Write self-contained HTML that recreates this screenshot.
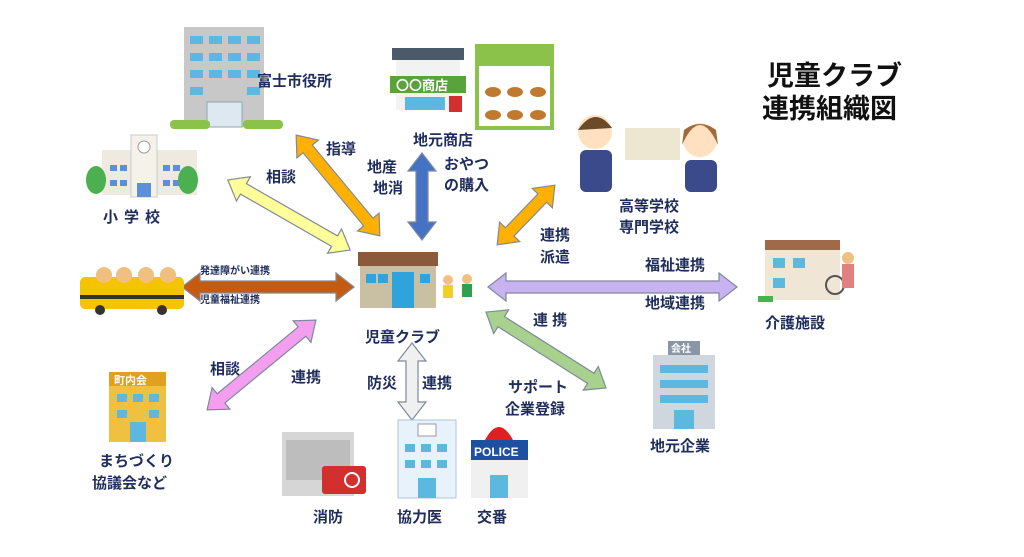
<!DOCTYPE html>
<html><head><meta charset="utf-8"><style>
body{margin:0;background:#fff}
svg{display:block}
text{font-family:"Liberation Sans","Noto Sans CJK JP",sans-serif;font-weight:bold;fill:#1f2d5c}
</style></head><body>
<svg width="1024" height="557" viewBox="0 0 1024 557" xmlns="http://www.w3.org/2000/svg">
<!-- Arrows -->
<g stroke="#7f8a99" stroke-width="1.2">
<polygon transform="translate(289,215) rotate(29.8)" fill="#ffff99" points="-70.5,0 -52.5,-14 -52.5,-6 52.5,-6 52.5,-14 70.5,0 52.5,14 52.5,6 -52.5,6 -52.5,14"/>
<polygon transform="translate(338,185.5) rotate(50.3)" fill="#ffb000" points="-65.5,0 -47.5,-14 -47.5,-6 47.5,-6 47.5,-14 65.5,0 47.5,14 47.5,6 -47.5,6 -47.5,14"/>
<polygon transform="translate(422,196.5) rotate(90)" fill="#4472c4" points="-43.5,0 -25.5,-14 -25.5,-6 25.5,-6 25.5,-14 43.5,0 25.5,14 25.5,6 -25.5,6 -25.5,14"/>
<polygon transform="translate(526,215) rotate(-46)" fill="#ffb000" points="-41.5,0 -23.5,-14 -23.5,-6 23.5,-6 23.5,-14 41.5,0 23.5,14 23.5,6 -23.5,6 -23.5,14"/>
<polygon transform="translate(268,287)" fill="#c55a11" points="-86,0 -68,-14 -68,-6 68,-6 68,-14 86,0 68,14 68,6 -68,6 -68,14"/>
<polygon transform="translate(612.5,287)" fill="#c9b2f2" points="-124.5,0 -106.5,-14 -106.5,-6 106.5,-6 106.5,-14 124.5,0 106.5,14 106.5,6 -106.5,6 -106.5,14"/>
<polygon transform="translate(546,350) rotate(32.3)" fill="#a9d18e" points="-71,0 -53,-14 -53,-6 53,-6 53,-14 71,0 53,14 53,6 -53,6 -53,14"/>
<polygon transform="translate(261.5,365) rotate(-39.5)" fill="#f49ef0" points="-70.5,0 -52.5,-14 -52.5,-6 52.5,-6 52.5,-14 70.5,0 52.5,14 52.5,6 -52.5,6 -52.5,14"/>
<polygon transform="translate(412,381.5) rotate(90)" fill="#f0f0f0" points="-38.5,0 -20.5,-14 -20.5,-6 20.5,-6 20.5,-14 38.5,0 20.5,14 20.5,6 -20.5,6 -20.5,14"/>
</g>

<!-- City hall -->
<rect x="184" y="27" width="80" height="100" fill="#c8c8c8"/>
<g fill="#5db8e0">
<rect x="190" y="36" width="13" height="8"/><rect x="209" y="36" width="13" height="8"/><rect x="228" y="36" width="13" height="8"/><rect x="247" y="36" width="13" height="8"/>
<rect x="190" y="53" width="13" height="8"/><rect x="209" y="53" width="13" height="8"/><rect x="228" y="53" width="13" height="8"/><rect x="247" y="53" width="13" height="8"/>
<rect x="190" y="70" width="13" height="8"/><rect x="209" y="70" width="13" height="8"/><rect x="228" y="70" width="13" height="8"/><rect x="247" y="70" width="13" height="8"/>
<rect x="190" y="87" width="13" height="8"/><rect x="247" y="87" width="13" height="8"/>
</g>
<rect x="207" y="102" width="35" height="25" fill="#dde8f0" stroke="#8aa" />
<rect x="170" y="120" width="40" height="9" rx="4" fill="#8bc34a"/><rect x="243" y="120" width="40" height="9" rx="4" fill="#8bc34a"/>
<text x="257" y="86" font-size="15">富士市役所</text>

<!-- School -->
<rect x="102" y="150" width="95" height="45" fill="#eeeae0"/>
<rect x="131" y="135" width="26" height="62" fill="#f5f2ea" stroke="#ccc"/>
<circle cx="144" cy="147" r="6" fill="#fff" stroke="#999"/>
<g fill="#5b8fd6"><rect x="110" y="165" width="7" height="6"/><rect x="120" y="165" width="7" height="6"/><rect x="163" y="165" width="7" height="6"/><rect x="173" y="165" width="7" height="6"/><rect x="110" y="180" width="7" height="6"/><rect x="120" y="180" width="7" height="6"/><rect x="163" y="180" width="7" height="6"/><rect x="173" y="180" width="7" height="6"/><rect x="137" y="183" width="14" height="14"/></g>
<ellipse cx="96" cy="180" rx="10" ry="14" fill="#4caf50"/><ellipse cx="188" cy="180" rx="10" ry="14" fill="#4caf50"/>
<text x="103" y="222" font-size="15" letter-spacing="6">小学校</text>

<!-- Shop -->
<rect x="392" y="48" width="72" height="12" fill="#4a5a68"/>
<rect x="396" y="60" width="64" height="50" fill="#f2f2f2"/>
<rect x="390" y="76" width="76" height="17" fill="#5aa23a"/>
<text x="396" y="90" font-size="13" style="fill:#fff">〇〇商店</text>
<rect x="405" y="97" width="40" height="13" fill="#5db8e0"/>
<rect x="449" y="96" width="13" height="16" fill="#d32f2f"/>
<rect x="477" y="46" width="75" height="82" fill="#fff" stroke="#8bc34a" stroke-width="4"/>
<rect x="477" y="46" width="75" height="20" fill="#8bc34a"/>
<g fill="#c07a30"><ellipse cx="493" cy="92" rx="8" ry="5"/><ellipse cx="515" cy="92" rx="8" ry="5"/><ellipse cx="538" cy="92" rx="8" ry="5"/><ellipse cx="493" cy="115" rx="8" ry="5"/><ellipse cx="515" cy="115" rx="8" ry="5"/><ellipse cx="538" cy="115" rx="8" ry="5"/></g>
<text x="413" y="145" font-size="15">地元商店</text>
<text x="444" y="169" font-size="15">おやつ</text>
<text x="444" y="190" font-size="15">の購入</text>
<text x="367" y="172" font-size="15">地産</text>
<text x="373" y="193" font-size="15">地消</text>
<text x="326" y="154" font-size="15">指導</text>
<text x="266" y="182" font-size="15">相談</text>

<!-- High school -->
<rect x="625" y="128" width="55" height="32" fill="#ede6d0"/>
<circle cx="595" cy="132" r="17" fill="#ffe0c0"/><path d="M578 130 Q595 105 612 128 Z" fill="#6b4a2a"/>
<rect x="580" y="150" width="32" height="42" rx="6" fill="#3a4a8a"/>
<circle cx="700" cy="140" r="17" fill="#ffe0c0"/><path d="M682 145 Q700 105 718 145 L716 130 Q700 118 684 130 Z" fill="#a06a3a"/>
<rect x="685" y="160" width="32" height="32" rx="6" fill="#3a4a8a"/>
<text x="619" y="211" font-size="15">高等学校</text>
<text x="619" y="232" font-size="15">専門学校</text>
<text x="540" y="240" font-size="15">連携</text>
<text x="540" y="262" font-size="15">派遣</text>

<!-- Title -->
<text x="767" y="85" font-size="27" style="fill:#111">児童クラブ</text>
<text x="762" y="118" font-size="27" style="fill:#111">連携組織図</text>

<!-- Center club -->
<rect x="358" y="252" width="80" height="14" fill="#8b5a3c"/>
<rect x="360" y="266" width="76" height="42" fill="#c9bfa2"/>
<rect x="392" y="272" width="22" height="36" fill="#2fa3dc"/>
<rect x="366" y="274" width="10" height="9" fill="#2fa3dc"/><rect x="378" y="274" width="10" height="9" fill="#2fa3dc"/><rect x="420" y="274" width="10" height="9" fill="#2fa3dc"/>
<circle cx="448" cy="280" r="5" fill="#f0c080"/><rect x="443" y="285" width="10" height="13" fill="#f0d020"/>
<circle cx="467" cy="279" r="5" fill="#f0c080"/><rect x="462" y="284" width="10" height="13" fill="#30a050"/>
<text x="365" y="342" font-size="15">児童クラブ</text>

<!-- Bus -->
<rect x="80" y="277" width="104" height="32" rx="5" fill="#f5c400"/>
<circle cx="104" cy="275" r="8" fill="#f0c080"/><circle cx="124" cy="275" r="8" fill="#f0c080"/><circle cx="146" cy="275" r="8" fill="#f0c080"/><circle cx="168" cy="275" r="8" fill="#f0c080"/>
<rect x="80" y="295" width="104" height="4" fill="#333"/>
<circle cx="100" cy="310" r="5" fill="#333"/><circle cx="162" cy="310" r="5" fill="#333"/>
<text x="200" y="274" font-size="10">発達障がい連携</text>
<text x="200" y="303" font-size="10">児童福祉連携</text>

<!-- Care home -->
<rect x="765" y="240" width="75" height="60" fill="#efe6d6"/>
<rect x="765" y="240" width="75" height="10" fill="#a06a4a"/>
<rect x="773" y="258" width="12" height="10" fill="#5db8e0"/><rect x="793" y="258" width="12" height="10" fill="#5db8e0"/><rect x="773" y="278" width="12" height="10" fill="#5db8e0"/>
<circle cx="835" cy="285" r="9" fill="none" stroke="#555" stroke-width="2"/>
<circle cx="848" cy="258" r="6" fill="#f0c080"/><rect x="842" y="264" width="12" height="24" fill="#e08080"/>
<rect x="758" y="296" width="15" height="6" fill="#4caf50"/>
<text x="765" y="328" font-size="15">介護施設</text>
<text x="645" y="270" font-size="15">福祉連携</text>
<text x="645" y="308" font-size="15">地域連携</text>
<text x="533" y="325" font-size="15">連 携</text>

<!-- Town council -->
<rect x="109" y="372" width="57" height="70" fill="#f0c040"/>
<rect x="109" y="372" width="57" height="14" fill="#e0a020"/>
<text x="114" y="384" font-size="11" style="fill:#fff">町内会</text>
<g fill="#5db8e0"><rect x="117" y="394" width="10" height="8"/><rect x="133" y="394" width="10" height="8"/><rect x="149" y="394" width="10" height="8"/><rect x="117" y="410" width="10" height="8"/><rect x="149" y="410" width="10" height="8"/><rect x="130" y="422" width="16" height="20"/></g>
<text x="99" y="466" font-size="15">まちづくり</text>
<text x="92" y="488" font-size="15">協議会など</text>
<text x="210" y="374" font-size="15">相談</text>
<text x="291" y="382" font-size="15">連携</text>
<text x="367" y="388" font-size="15">防災</text>
<text x="422" y="388" font-size="15">連携</text>

<!-- Fire station -->
<rect x="282" y="432" width="72" height="64" fill="#d6d6d6"/>
<rect x="286" y="440" width="64" height="40" fill="#bdbdbd"/>
<rect x="322" y="466" width="44" height="28" rx="3" fill="#d32f2f"/>
<circle cx="352" cy="480" r="7" fill="none" stroke="#fff" stroke-width="2"/>
<text x="313" y="522" font-size="15">消防</text>

<!-- Hospital -->
<rect x="398" y="420" width="58" height="78" fill="#e8f2fa" stroke="#b0c4d8"/>
<rect x="418" y="424" width="18" height="12" fill="#fff" stroke="#99a"/>
<g fill="#5db8e0"><rect x="405" y="444" width="10" height="8"/><rect x="421" y="444" width="10" height="8"/><rect x="437" y="444" width="10" height="8"/><rect x="405" y="460" width="10" height="8"/><rect x="421" y="460" width="10" height="8"/><rect x="437" y="460" width="10" height="8"/><rect x="418" y="478" width="18" height="20"/></g>
<text x="397" y="522" font-size="15">協力医</text>

<!-- Police -->
<path d="M485 440 Q499 414 513 440 Z" fill="#e02020"/>
<rect x="471" y="440" width="57" height="58" fill="#f0f0f0"/>
<rect x="471" y="440" width="57" height="20" fill="#1e4fa0"/>
<text x="474" y="456" font-size="12" style="fill:#fff">POLICE</text>
<rect x="490" y="475" width="18" height="23" fill="#5db8e0"/>
<text x="477" y="522" font-size="15">交番</text>
<text x="508" y="392" font-size="15">サポート</text>
<text x="505" y="414" font-size="15">企業登録</text>

<!-- Company -->
<rect x="653" y="355" width="62" height="74" fill="#cfd6de"/>
<rect x="668" y="341" width="32" height="14" fill="#8a96a6"/>
<text x="671" y="352" font-size="10" style="fill:#fff">会社</text>
<g fill="#5db8e0"><rect x="660" y="365" width="48" height="8"/><rect x="660" y="380" width="48" height="8"/><rect x="660" y="395" width="48" height="8"/><rect x="674" y="410" width="20" height="19"/></g>
<text x="650" y="451" font-size="15">地元企業</text>
</svg>
</body></html>
